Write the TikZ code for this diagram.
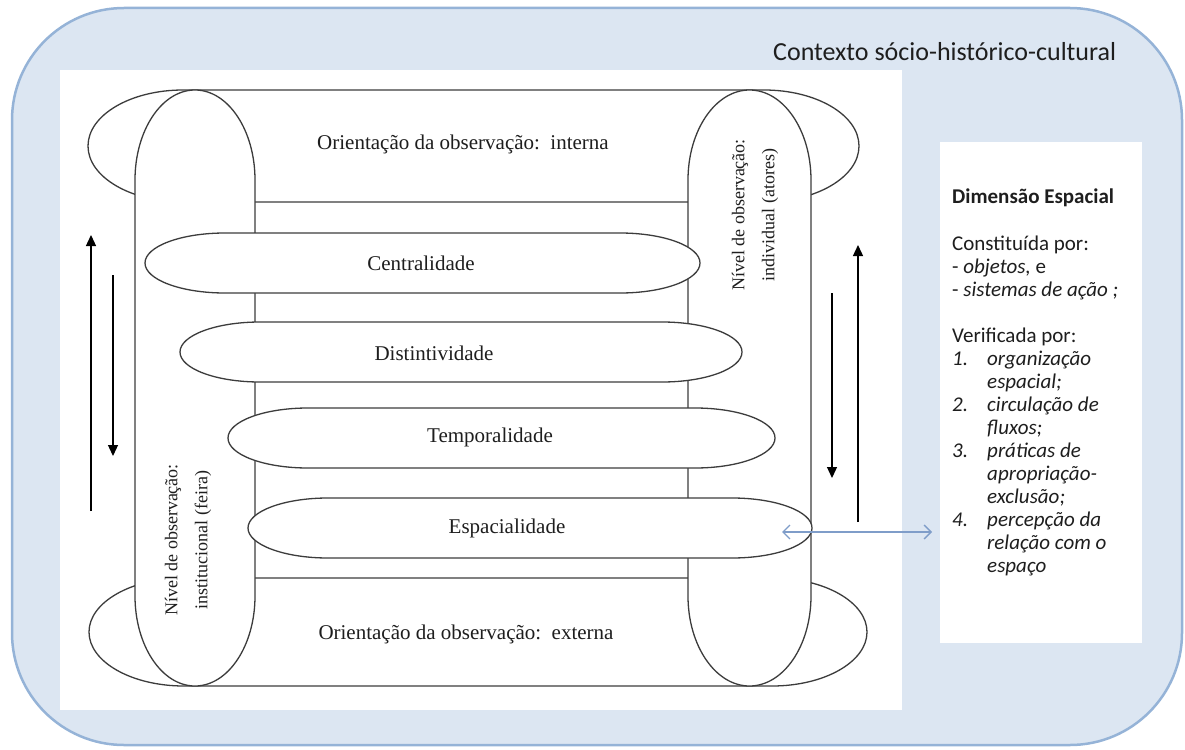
\documentclass[tikz,border=0pt]{standalone}
\usepackage{fontspec}
\setmainfont{Liberation Serif}
\newfontfamily\calfont{Carlito}
\usetikzlibrary{arrows.meta}
\definecolor{bgblue}{HTML}{DCE6F2}
\definecolor{bordblue}{HTML}{95B3D7}
\definecolor{linegray}{HTML}{3C3C3C}
\definecolor{arrowblue}{HTML}{7F9DC9}
\definecolor{txtdark}{HTML}{1E1E1E}
% horizontal band with elliptical caps: style, x1, y1, x2, y2, rx
\newcommand\hband[6]{%
  \path[#1] ({#2+#6},#3) -- ({#4-#6},#3)
    arc[start angle=-90,end angle=90,x radius=#6,y radius={(#5-#3)/2}]
    -- ({#2+#6},#5)
    arc[start angle=90,end angle=270,x radius=#6,y radius={(#5-#3)/2}] -- cycle;}
% vertical oval: style, x1, y1, x2, y2, ry
\newcommand\voval[6]{%
  \path[#1] (#2,{#3+#6})
    arc[start angle=180,end angle=360,x radius={(#4-#2)/2},y radius=#6]
    -- (#4,{#5-#6})
    arc[start angle=0,end angle=180,x radius={(#4-#2)/2},y radius=#6] -- cycle;}
\tikzset{
  shapeline/.style={fill=white,draw=linegray,line width=1.3pt},
  serif/.style={font=\fontsize{21}{24}\selectfont,text=txtdark,inner sep=0pt},
  rottext/.style={font=\fontsize{18}{30}\selectfont,text=txtdark,align=center,rotate=90,inner sep=0pt},
  boxtext/.style={font=\calfont\fontsize{21}{25}\selectfont,text=txtdark,anchor=base west,inner sep=0pt},
  blackarrow/.style={draw=black,line width=1.3pt,-{Triangle[length=11pt,width=10pt]}},
  bluearrow/.style={draw=arrowblue,line width=1.3pt,{Straight Barb[length=7pt,width=14pt]}-{Straight Barb[length=7pt,width=14pt]}}
}
\begin{document}
\begin{tikzpicture}[x=1pt,y=-1pt]
\useasboundingbox (0,0) rectangle (1185,749);
% background context
\path[fill=bgblue,draw=bordblue,line width=2.5pt,rounded corners=112pt] (12,8) rectangle (1182,745);
\node[font=\calfont\fontsize{26}{30}\selectfont,text=txtdark,anchor=west,inner sep=0pt] (ctx) at (773,52) {Contexto sócio-histórico-cultural};
% white panels
\fill[white] (60,70) rectangle (902,710);
\fill[white] (940,142) rectangle (1142,643);
% top and bottom bands
\hband{shapeline}{88}{90}{859}{202}{95}
\hband{shapeline}{89}{578}{867}{686}{95}
% vertical ovals
\voval{shapeline}{135}{90}{255}{686}{90}
\voval{shapeline}{688}{90}{811}{686}{90}
% middle ellipses
\hband{shapeline}{145}{233}{700}{293}{80}
\hband{shapeline}{180}{322}{742}{382}{80}
\hband{shapeline}{228}{408}{775}{468}{80}
\hband{shapeline}{248}{498}{812}{558}{80}
% texts in bands
\node[serif] (interna) at (463,144) {Orientação da observação:\ \ interna};
\node[serif] (externa) at (466,634) {Orientação da observação:\ \ externa};
\node[serif] (cent) at (421,263) {Centralidade};
\node[serif] (dist) at (434,353) {Distintividade};
\node[serif] (temp) at (490,437) {Temporalidade};
\node[serif] (espa) at (507,528) {Espacialidade};
\node[rottext] (inst) at (188,540) {Nível de observação:\\institucional (feira)};
\node[rottext] (indiv) at (755,215) {Nível de observação:\\individual (atores)};
% vertical arrows
\coordinate (lu1) at (91,511); \coordinate (lu2) at (91,235);
\coordinate (ld1) at (113,275); \coordinate (ld2) at (113,456);
\coordinate (rd1) at (832,293); \coordinate (rd2) at (832,478);
\coordinate (ru1) at (858,522); \coordinate (ru2) at (858,245);
\draw[blackarrow] (lu1) -- (lu2);
\draw[blackarrow] (ld1) -- (ld2);
\draw[blackarrow] (rd1) -- (rd2);
\draw[blackarrow] (ru1) -- (ru2);
% right box text
\node[boxtext,font=\calfont\bfseries\fontsize{21}{25}\selectfont] (dim) at (952,203) {Dimensão Espacial};
\node[boxtext] (c1) at (952,250) {Constituída por:};
\node[boxtext] (c2) at (952,273) {- \textit{objetos,} e};
\node[boxtext] (c3) at (952,296) {- \textit{sistemas de ação ;}};
\node[boxtext] (v0) at (952,342) {Verificada por:};
\node[boxtext] (n1) at (952,365) {\textit{1.}};
\node[boxtext] (l1) at (987,365) {\textit{organização}};
\node[boxtext] (l2) at (987,388) {\textit{espacial;}};
\node[boxtext] (n2) at (952,411) {\textit{2.}};
\node[boxtext] (l3) at (987,411) {\textit{circulação de}};
\node[boxtext] (l4) at (987,434) {\textit{fluxos;}};
\node[boxtext] (n3) at (952,457) {\textit{3.}};
\node[boxtext] (l5) at (987,457) {\textit{práticas de}};
\node[boxtext] (l6) at (987,480) {\textit{apropriação-}};
\node[boxtext] (l7) at (987,503) {\textit{exclusão;}};
\node[boxtext] (n4) at (952,526) {\textit{4.}};
\node[boxtext] (l8) at (987,526) {\textit{percepção da}};
\node[boxtext] (l9) at (987,549) {\textit{relação com o}};
\node[boxtext] (l10) at (987,572) {\textit{espaço}};
% double arrow between Espacialidade and the box
\coordinate (espR) at (782,532);
\coordinate (boxL) at (932,532);
\draw[bluearrow] (espR) -- (boxL);
\end{tikzpicture}
\end{document}
